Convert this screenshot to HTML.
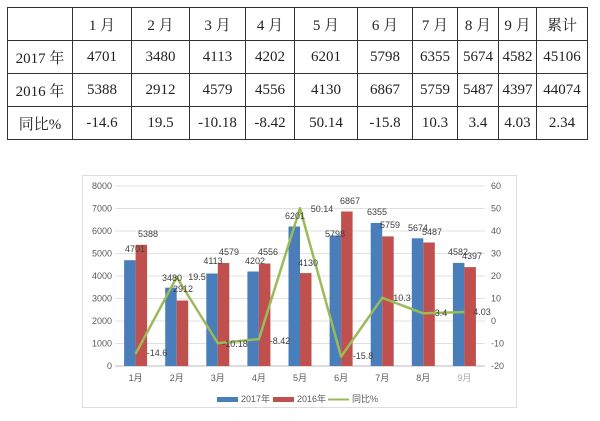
<!DOCTYPE html>
<html><head><meta charset="utf-8"><style>
body{margin:0;width:600px;height:421px;background:#fff;overflow:hidden;position:relative}
table{position:absolute;left:7px;top:7px;border-collapse:collapse;table-layout:fixed;width:580px;font-family:"Liberation Serif","Noto Serif CJK SC",serif;font-size:15px;color:#222}
td{border:1.5px solid #333;text-align:center;padding:0;height:32px;overflow:hidden;white-space:nowrap}
</style></head><body>
<table>
<colgroup><col style="width:65px"><col style="width:59px"><col style="width:58px"><col style="width:56px"><col style="width:49px"><col style="width:63px"><col style="width:55px"><col style="width:45px"><col style="width:41px"><col style="width:38px"><col style="width:51px"></colgroup>
<tr><td></td><td>1 月</td><td>2 月</td><td>3 月</td><td>4 月</td><td>5 月</td><td>6 月</td><td>7 月</td><td>8 月</td><td>9 月</td><td>累计</td></tr>
<tr><td>2017 年</td><td>4701</td><td>3480</td><td>4113</td><td>4202</td><td>6201</td><td>5798</td><td>6355</td><td>5674</td><td>4582</td><td>45106</td></tr>
<tr><td>2016 年</td><td>5388</td><td>2912</td><td>4579</td><td>4556</td><td>4130</td><td>6867</td><td>5759</td><td>5487</td><td>4397</td><td>44074</td></tr>
<tr><td>同比%</td><td>-14.6</td><td>19.5</td><td>-10.18</td><td>-8.42</td><td>50.14</td><td>-15.8</td><td>10.3</td><td>3.4</td><td>4.03</td><td>2.34</td></tr>
</table>
<svg width="600" height="421" style="position:absolute;left:0;top:0" font-family="Liberation Sans, Noto Sans CJK SC, sans-serif">
<rect x="82.5" y="175.5" width="434" height="232" fill="none" stroke="#ddd"/>
<g stroke="#e0e0e0" stroke-width="1">
<line x1="115" x2="485" y1="186" y2="186"/><line x1="115" x2="485" y1="208.5" y2="208.5"/><line x1="115" x2="485" y1="231" y2="231"/><line x1="115" x2="485" y1="253.5" y2="253.5"/><line x1="115" x2="485" y1="276" y2="276"/><line x1="115" x2="485" y1="298.5" y2="298.5"/><line x1="115" x2="485" y1="321" y2="321"/><line x1="115" x2="485" y1="343.5" y2="343.5"/>
</g>
<line x1="115" x2="485" y1="366" y2="366" stroke="#bbb"/>
<g font-size="9" fill="#595959" text-anchor="end">
<text x="112" y="189">8000</text><text x="112" y="211.5">7000</text><text x="112" y="234">6000</text><text x="112" y="256.5">5000</text><text x="112" y="279">4000</text><text x="112" y="301.5">3000</text><text x="112" y="324">2000</text><text x="112" y="346.5">1000</text><text x="112" y="369">0</text>
</g>
<g font-size="9" fill="#595959" text-anchor="start">
<text x="491" y="189">60</text><text x="491" y="211.5">50</text><text x="491" y="234">40</text><text x="491" y="256.5">30</text><text x="491" y="279">20</text><text x="491" y="301.5">10</text><text x="491" y="324">0</text><text x="491" y="346.5">-10</text><text x="491" y="369">-20</text>
</g>
<g fill="#4a7ebb">
<rect x="124.1" y="260.2" width="11.5" height="105.8"/><rect x="165.2" y="287.7" width="11.5" height="78.3"/><rect x="206.3" y="273.5" width="11.5" height="92.5"/><rect x="247.4" y="271.5" width="11.5" height="94.5"/><rect x="288.5" y="226.5" width="11.5" height="139.5"/><rect x="329.6" y="235.5" width="11.5" height="130.5"/><rect x="370.7" y="223" width="11.5" height="143"/><rect x="411.8" y="238.3" width="11.5" height="127.7"/><rect x="452.9" y="262.9" width="11.5" height="103.1"/>
</g>
<g fill="#c0504d">
<rect x="135.6" y="244.8" width="11.5" height="121.2"/><rect x="176.7" y="300.5" width="11.5" height="65.5"/><rect x="217.8" y="263" width="11.5" height="103"/><rect x="258.9" y="263.5" width="11.5" height="102.5"/><rect x="300" y="273.1" width="11.5" height="92.9"/><rect x="341.1" y="211.5" width="11.5" height="154.5"/><rect x="382.2" y="236.4" width="11.5" height="129.6"/><rect x="423.3" y="242.5" width="11.5" height="123.5"/><rect x="464.4" y="267.1" width="11.5" height="98.9"/>
</g>
<polyline fill="none" stroke="#9bbb59" stroke-width="2.5" stroke-linejoin="round" points="135.6,353.9 176.7,277.1 217.8,343.1 258.9,339.1 300,208.2 341.1,356.6 382.2,297.8 423.3,313.4 464.4,312"/>
<g font-size="9" fill="#404040" text-anchor="middle">
<text x="135" y="252">4701</text><text x="148" y="237">5388</text>
<text x="172" y="281">3480</text><text x="183" y="292">2912</text><text x="197" y="280">19.5</text>
<text x="213" y="264">4113</text><text x="229" y="255">4579</text>
<text x="255" y="264">4202</text><text x="268" y="255">4556</text>
<text x="295" y="219">6201</text><text x="308" y="266">4130</text>
<text x="335" y="237">5798</text><text x="350" y="204">6867</text>
<text x="377" y="215">6355</text><text x="390" y="228">5759</text>
<text x="418" y="231">5674</text><text x="432" y="235">5487</text>
<text x="458" y="255">4582</text><text x="472" y="259">4397</text>
<text x="157" y="356">-14.6</text><text x="235" y="347">-10.18</text><text x="280" y="344">-8.42</text><text x="322" y="212">50.14</text><text x="363" y="359">-15.8</text><text x="402" y="301">10.3</text><text x="441" y="316">3.4</text><text x="482" y="315">4.03</text>
</g>
<g font-size="9" fill="#595959" text-anchor="middle">
<text x="135.6" y="381">1月</text><text x="176.7" y="381">2月</text><text x="217.8" y="381">3月</text><text x="258.9" y="381">4月</text><text x="300" y="381">5月</text><text x="341.1" y="381">6月</text><text x="382.2" y="381">7月</text><text x="423.3" y="381">8月</text><text x="464.4" y="381" fill="#aaa">9月</text>
</g>
<rect x="217" y="397" width="21" height="5" fill="#4a7ebb"/><text x="241" y="402" font-size="9" fill="#595959">2017年</text>
<rect x="273" y="397" width="21" height="5" fill="#c0504d"/><text x="297" y="402" font-size="9" fill="#595959">2016年</text>
<line x1="328" x2="349" y1="399.5" y2="399.5" stroke="#9bbb59" stroke-width="2"/><text x="352" y="402" font-size="9" fill="#595959">同比%</text>
</svg>
</body></html>
